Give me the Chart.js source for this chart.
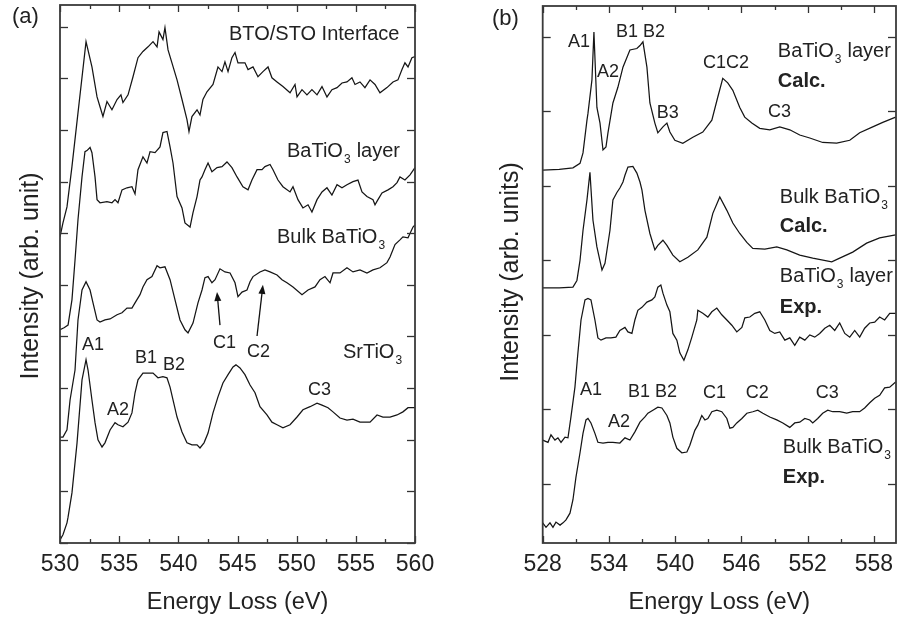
<!DOCTYPE html>
<html><head><meta charset="utf-8">
<script src="https://cdn.jsdelivr.net/npm/chart.js@4/dist/chart.umd.min.js"></script>
<style>
html,body{margin:0;padding:0;background:#fff;}
#wrap{position:relative;width:899px;height:619px;overflow:hidden;}
#ca{position:absolute;left:0;top:0;width:440px;height:619px;}
#cb{position:absolute;left:440px;top:0;width:459px;height:619px;}
</style></head><body>
<div id="wrap"><canvas id="ca" width="440" height="619"></canvas><canvas id="cb" width="459" height="619"></canvas></div>
<script>
// ---------- Panel (a): O K-edge spectra (energy eV, intensity arb.) ----------
const aInterface = [[530.00,5.93],[530.25,6.20],[530.59,6.51],[531.01,7.29],[531.52,8.33],[532.20,9.71],[532.70,9.22],[533.13,8.64],[533.38,8.45],[533.63,8.26],[533.97,8.55],[534.39,8.39],[534.82,8.59],[535.15,8.68],[535.32,8.53],[535.75,8.68],[536.17,9.03],[536.59,9.40],[537.01,9.52],[537.44,9.61],[537.86,9.71],[538.20,9.61],[538.37,9.90],[538.70,9.75],[538.87,9.98],[539.13,9.55],[539.46,9.30],[539.89,8.97],[540.31,8.59],[540.73,8.20],[540.90,7.97],[541.15,8.26],[541.58,8.39],[541.83,8.29],[542.08,8.59],[542.42,8.74],[542.93,8.88],[543.35,9.22],[543.69,9.13],[543.94,9.32],[544.20,9.13],[544.53,9.40],[544.79,9.50],[545.04,9.30],[545.63,9.30],[545.89,9.17],[546.31,9.22],[546.73,9.03],[547.15,9.13],[547.58,9.22],[547.91,9.01],[548.34,8.93],[548.84,8.84],[549.44,8.72],[549.86,8.88],[550.03,8.64],[550.45,8.78],[550.87,8.68],[551.29,8.78],[551.72,8.68],[552.14,8.84],[552.56,8.64],[552.98,8.78],[553.41,8.82],[553.83,8.91],[554.25,8.93],[554.67,9.01],[554.93,8.88],[555.35,8.93],[555.77,8.82],[556.20,8.97],[556.62,8.88],[557.04,8.72],[557.63,8.82],[558.14,8.93],[558.56,8.97],[558.90,9.17],[559.15,9.30],[559.41,9.22],[559.74,9.40],[560.00,9.42]];
const aLayer = [[530.00,4.13],[530.34,4.17],[530.68,4.22],[531.01,4.71],[531.27,5.48],[531.52,6.26],[531.86,7.09],[532.11,7.58],[532.28,7.60],[532.54,7.66],[532.70,7.56],[532.96,7.09],[533.13,6.65],[533.38,6.59],[533.97,6.61],[534.39,6.59],[534.65,6.65],[534.90,6.59],[535.24,6.84],[535.66,6.88],[536.08,6.90],[536.34,6.76],[536.59,7.23],[537.01,7.48],[537.35,7.36],[537.61,7.58],[538.03,7.56],[538.45,7.67],[538.70,7.95],[539.04,7.97],[539.30,7.67],[539.55,7.36],[539.89,6.71],[540.31,6.49],[540.56,6.20],[540.99,6.12],[541.24,6.40],[541.58,6.71],[541.83,7.03],[542.00,7.09],[542.25,7.23],[542.51,7.36],[542.84,7.19],[543.27,7.27],[543.69,7.29],[544.11,7.38],[544.53,7.27],[544.96,7.09],[545.46,6.90],[545.89,6.84],[546.22,7.03],[546.65,7.23],[547.07,7.23],[547.32,7.29],[547.75,7.33],[548.00,7.23],[548.42,7.03],[548.84,6.90],[549.44,6.80],[549.69,6.90],[550.11,6.65],[550.53,6.49],[550.96,6.55],[551.29,6.41],[551.72,6.65],[552.14,6.80],[552.56,6.88],[552.98,6.74],[553.41,6.94],[553.83,6.88],[554.25,6.94],[554.76,7.00],[555.18,7.03],[555.52,6.80],[555.94,6.71],[556.45,6.65],[556.62,6.55],[556.87,6.65],[557.21,6.78],[557.72,6.84],[558.14,6.90],[558.48,6.98],[558.73,7.09],[559.15,7.03],[559.58,7.13],[560.00,7.27]];
const aBulk = [[530.00,2.05],[530.25,2.05],[530.59,2.19],[530.85,2.77],[531.27,3.35],[531.52,4.32],[531.86,4.90],[532.20,5.06],[532.54,4.90],[532.79,4.65],[533.13,4.32],[533.38,4.28],[533.80,4.32],[534.23,4.34],[534.82,4.42],[535.24,4.46],[535.66,4.55],[536.08,4.55],[536.34,4.65],[536.76,4.81],[537.01,4.96],[537.35,5.10],[537.77,5.16],[538.20,5.37],[538.45,5.33],[538.87,5.35],[539.30,5.10],[539.72,4.71],[540.14,4.32],[540.56,4.13],[540.82,4.07],[541.24,4.26],[541.66,4.65],[542.00,4.90],[542.25,5.14],[542.51,5.16],[542.84,5.04],[543.10,5.10],[543.52,5.31],[543.94,5.25],[544.37,5.23],[544.79,5.04],[545.04,4.77],[545.38,4.86],[545.80,4.90],[546.06,5.06],[546.31,5.16],[546.90,5.25],[547.32,5.29],[547.75,5.25],[548.34,5.19],[548.76,5.10],[549.18,5.04],[549.69,4.96],[550.45,4.81],[550.96,4.90],[551.55,4.96],[551.97,5.10],[552.39,5.16],[552.82,5.04],[553.07,5.23],[553.66,5.23],[554.25,5.33],[554.76,5.25],[555.35,5.29],[555.94,5.23],[556.45,5.29],[557.04,5.33],[557.63,5.43],[557.89,5.54],[558.31,5.78],[558.73,5.87],[558.98,5.93],[559.41,5.91],[559.83,6.12],[560.00,6.16]];
const aSrTiO3 = [[530.00,0.06],[530.25,0.16],[530.59,0.39],[530.68,0.50],[531.01,0.97],[531.44,1.94],[531.86,3.16],[532.20,3.55],[532.37,3.35],[532.70,2.77],[532.96,2.33],[533.21,2.00],[533.55,1.86],[533.80,1.94],[534.23,2.19],[534.65,2.33],[534.90,2.29],[535.32,2.25],[535.75,2.34],[536.08,2.52],[536.34,2.91],[536.59,3.16],[537.01,3.29],[537.44,3.29],[537.86,3.29],[538.28,3.20],[538.70,3.22],[539.04,3.20],[539.30,3.02],[539.55,2.77],[539.89,2.44],[540.31,2.15],[540.73,1.94],[541.15,1.90],[541.58,1.90],[541.83,1.84],[542.17,1.94],[542.51,2.13],[542.93,2.52],[543.35,2.83],[543.77,3.10],[544.20,3.26],[544.62,3.41],[544.87,3.45],[545.21,3.39],[545.63,3.26],[546.06,3.06],[546.48,2.91],[546.90,2.64],[547.49,2.48],[547.91,2.34],[548.34,2.29],[548.84,2.23],[549.44,2.29],[550.03,2.44],[550.53,2.58],[551.13,2.64],[551.72,2.71],[552.14,2.67],[552.65,2.62],[553.07,2.54],[553.66,2.42],[554.25,2.38],[554.76,2.40],[555.35,2.34],[556.20,2.34],[556.79,2.48],[557.29,2.44],[557.89,2.44],[558.48,2.48],[558.98,2.54],[559.41,2.62],[560.00,2.62]];

// ---------- Panel (b) ----------
const bLayerCalc = [[528.00,4.21],[529.50,4.22],[530.74,4.24],[531.38,4.30],[531.65,4.44],[532.01,4.88],[532.10,4.97],[532.46,5.42],[532.64,6.06],[532.91,5.05],[533.19,4.84],[533.46,4.48],[533.73,4.52],[533.91,4.71],[534.36,5.11],[534.81,5.32],[535.27,5.59],[535.90,5.82],[536.53,5.84],[536.81,5.88],[537.08,5.93],[537.44,5.59],[537.71,5.11],[538.16,4.84],[538.43,4.71],[538.89,4.79],[539.25,4.84],[539.52,4.72],[539.97,4.61],[540.69,4.57],[541.60,4.65],[542.50,4.72],[543.32,4.88],[543.86,5.19],[544.31,5.44],[544.76,5.38],[545.22,5.28],[545.85,5.05],[546.30,4.92],[546.94,4.84],[547.66,4.77],[548.57,4.75],[549.47,4.79],[550.38,4.75],[551.28,4.68],[552.19,4.64],[553.36,4.58],[554.63,4.57],[555.81,4.61],[556.71,4.71],[557.89,4.79],[558.80,4.85],[559.97,4.92]];
const bBulkCalc = [[528.00,2.63],[529.50,2.63],[530.74,2.64],[531.10,2.73],[531.38,3.00],[531.65,3.40],[532.01,3.81],[532.28,4.18],[532.55,3.54],[532.91,3.18],[533.37,2.87],[533.64,2.96],[534.09,3.40],[534.36,3.81],[534.72,3.91],[534.99,3.97],[535.27,4.05],[535.45,4.14],[535.72,4.25],[536.17,4.26],[536.53,4.17],[536.81,4.05],[536.99,3.94],[537.26,3.67],[537.71,3.36],[538.16,3.14],[538.43,3.20],[538.89,3.27],[539.25,3.20],[539.79,3.07],[540.42,2.98],[541.15,3.04],[542.05,3.14],[542.87,3.31],[543.41,3.63],[544.04,3.85],[544.68,3.67],[545.22,3.50],[545.85,3.36],[546.49,3.24],[547.03,3.16],[548.12,3.15],[549.20,3.18],[550.11,3.14],[551.28,3.07],[552.46,3.03],[554.18,2.98],[554.90,3.03],[556.08,3.11],[557.34,3.23],[558.52,3.30],[559.97,3.34]];
const bLayerExp = [[528.00,0.59],[528.48,0.56],[528.75,0.66],[529.11,0.59],[529.38,0.62],[529.66,0.56],[530.02,0.63],[530.29,0.62],[530.56,0.90],[530.92,1.30],[531.19,1.76],[531.47,2.20],[531.83,2.47],[532.10,2.49],[532.37,2.47],[532.73,2.20],[533.00,1.96],[533.28,1.93],[533.73,1.96],[534.18,1.96],[534.63,1.97],[534.99,2.06],[535.45,2.10],[535.72,2.04],[536.08,2.02],[536.35,2.20],[536.62,2.33],[536.99,2.37],[537.44,2.44],[537.89,2.47],[538.16,2.51],[538.43,2.64],[538.70,2.67],[538.89,2.56],[539.25,2.40],[539.52,2.31],[539.79,2.02],[540.15,1.93],[540.42,1.76],[540.79,1.66],[541.15,1.80],[541.51,1.97],[541.96,2.20],[542.05,2.33],[542.50,2.29],[542.96,2.24],[543.32,2.31],[543.77,2.36],[544.22,2.27],[544.68,2.20],[545.13,2.13],[545.58,2.04],[546.04,2.10],[546.31,2.23],[546.76,2.24],[547.21,2.29],[547.66,2.31],[548.12,2.20],[548.57,2.06],[549.02,2.02],[549.47,2.04],[549.93,1.93],[550.38,1.96],[550.83,1.86],[551.28,1.97],[551.74,1.93],[552.19,2.00],[552.64,1.97],[553.09,2.02],[553.55,2.09],[554.00,2.13],[554.45,2.06],[554.90,2.16],[555.36,2.02],[555.81,1.97],[556.26,2.06],[556.71,1.97],[557.16,2.09],[557.62,2.16],[558.07,2.17],[558.52,2.24],[558.97,2.20],[559.43,2.29],[559.97,2.29]];
const bBulkExp = [[528.00,-0.52],[528.30,-0.58],[528.66,-0.52],[528.93,-0.58],[529.20,-0.51],[529.57,-0.55],[529.84,-0.52],[530.11,-0.48],[530.47,-0.39],[530.74,-0.21],[531.01,0.09],[531.38,0.42],[531.65,0.68],[531.92,0.86],[532.10,0.88],[532.37,0.82],[532.73,0.68],[533.00,0.56],[533.46,0.55],[533.91,0.56],[534.36,0.56],[534.99,0.55],[535.45,0.62],[535.90,0.59],[536.35,0.70],[536.81,0.83],[537.26,0.90],[537.53,0.95],[537.98,0.99],[538.43,1.03],[538.80,1.02],[539.25,0.92],[539.52,0.82],[539.79,0.63],[540.15,0.48],[540.60,0.42],[541.06,0.43],[541.33,0.52],[541.78,0.72],[542.05,0.79],[542.41,0.92],[542.69,0.86],[542.96,0.88],[543.32,0.97],[543.77,0.99],[544.22,0.97],[544.68,0.88],[544.95,0.75],[545.22,0.76],[545.58,0.82],[546.04,0.88],[546.49,0.95],[547.03,0.97],[547.48,0.99],[547.94,0.95],[548.57,0.90],[549.20,0.86],[549.75,0.82],[550.38,0.76],[550.83,0.82],[551.28,0.83],[551.74,0.88],[552.19,0.86],[552.46,0.82],[552.91,0.88],[553.36,0.95],[553.82,0.99],[554.27,0.97],[554.90,0.97],[555.54,0.95],[556.08,0.97],[556.71,0.97],[557.16,1.02],[557.62,1.09],[558.07,1.15],[558.52,1.19],[558.97,1.29],[559.43,1.30],[559.97,1.37]];

// tick values / labels
const aXTicks = [530,535,540,545,550,555,560];
const aXMinor = [532.5,537.5,542.5,547.5,552.5,557.5];
const aYTicks = [0,1,2,3,4,5,6,7,8,9,10];
const bXTicks = [528,534,540,546,552,558];
const bXMinor = [531,537,543,549,555];
const bYTicks = [0,1,2,3,4,5,6];

// text annotations [text, energy, intensity]
const aLabels = [["BTO/STO Interface",544.28,9.75],["BaTiO_3 layer",549.18,7.48],["Bulk BaTiO_3",548.34,5.81],["SrTiO_3",553.91,3.59]];
const aPeaks = [["A1",531.86,3.74],["B1",536.34,3.49],["B2",538.70,3.35],["C1",542.93,3.78],["C2",545.80,3.60],["A2",533.97,2.48],["C3",550.96,2.87]];
const aArrows = [[543.52,4.22,543.27,4.86],[546.65,4.01,547.15,5.00]];
const bLabels = [["BaTiO_3 layer",549.30,5.72,false],["Calc.",549.30,5.32,true],["Bulk BaTiO_3",549.48,3.77,false],["Calc.",549.48,3.38,true],["BaTiO_3 layer",549.48,2.71,false],["Exp.",549.48,2.29,true],["Bulk BaTiO_3",549.75,0.42,false],["Exp.",549.75,0.01,true]];
const bPeaks = [["A1",530.29,5.86],["B1 B2",534.63,5.99],["A2",532.91,5.46],["B3",538.34,4.91],["C1C2",542.51,5.58],["C3",548.40,4.92],["A1",531.38,1.19],["A2",533.91,0.76],["B1 B2",535.72,1.17],["C1",542.51,1.15],["C2",546.40,1.15],["C3",552.73,1.15]];

const FONT = '"Liberation Sans", Arial, Helvetica, sans-serif';
const TXT = '#222';

function drawRich(ctx, str, x, y, size, bold) {
  const parts = str.split('_');
  ctx.textAlign = 'left'; ctx.textBaseline = 'alphabetic';
  let cx = x;
  const w = bold ? 'bold ' : '';
  parts.forEach((p, i) => {
    let main = p;
    if (i > 0) {
      const sub = p[0]; main = p.slice(1);
      ctx.font = w + Math.round(size * 0.62) + 'px ' + FONT;
      ctx.fillText(sub, cx + 1, y + size * 0.3);
      cx += ctx.measureText(sub).width + 1.5;
    }
    ctx.font = w + size + 'px ' + FONT;
    ctx.fillText(main, cx, y);
    cx += ctx.measureText(main).width;
  });
}

function decor(cfg) {
  return {
    id: 'decor',
    afterDraw(chart) {
      const ctx = chart.ctx, a = chart.chartArea, xs = chart.scales.x, ys = chart.scales.y;
      ctx.save();
      ctx.strokeStyle = '#333'; ctx.lineWidth = 1.3;
      const ln = (x1, y1, x2, y2) => { ctx.beginPath(); ctx.moveTo(x1, y1); ctx.lineTo(x2, y2); ctx.stroke(); };
      cfg.xMajor.forEach(v => { const p = Math.round(xs.getPixelForValue(v)) + 0.5; ln(p, a.bottom, p, a.bottom - 7); ln(p, a.top, p, a.top + 7); });
      cfg.xMinor.forEach(v => { const p = Math.round(xs.getPixelForValue(v)) + 0.5; ln(p, a.bottom, p, a.bottom - 4); ln(p, a.top, p, a.top + 4); });
      cfg.yMajor.forEach(v => { const p = Math.round(ys.getPixelForValue(v)) + 0.5; ln(a.left, p, a.left + 8, p); ln(a.right, p, a.right - 8, p); });
      ctx.lineWidth = 1.8; ctx.strokeStyle = '#3a3a3a';
      ctx.strokeRect(a.left, a.top, a.right - a.left, a.bottom - a.top);
      // tick labels
      ctx.fillStyle = TXT; ctx.font = '23px ' + FONT; ctx.textAlign = 'center'; ctx.textBaseline = 'alphabetic';
      cfg.xMajor.forEach(v => ctx.fillText(String(v), xs.getPixelForValue(v), 571));
      // axis titles
      ctx.font = '23.5px ' + FONT;
      ctx.fillText('Energy Loss (eV)', (a.left + a.right) / 2, 609);
      ctx.save();
      ctx.translate(cfg.yTitleX, cfg.yTitleY); ctx.rotate(-Math.PI / 2);
      ctx.font = '25px ' + FONT; ctx.textAlign = 'center';
      ctx.fillText(cfg.yTitle, 0, 0);
      ctx.restore();
      // panel letter
      ctx.font = '22px ' + FONT; ctx.textAlign = 'left';
      ctx.fillText(cfg.letter, cfg.letterX, cfg.letterY);
      // labels
      cfg.labels.forEach(l => drawRich(ctx, l[0], xs.getPixelForValue(l[1]), ys.getPixelForValue(l[2]), 20, !!l[3]));
      cfg.peaks.forEach(l => drawRich(ctx, l[0], xs.getPixelForValue(l[1]), ys.getPixelForValue(l[2]), 18, false));
      // arrows
      ctx.strokeStyle = '#111'; ctx.fillStyle = '#111'; ctx.lineWidth = 1.3;
      (cfg.arrows || []).forEach(r => {
        const x1 = xs.getPixelForValue(r[0]), y1 = ys.getPixelForValue(r[1]);
        const x2 = xs.getPixelForValue(r[2]), y2 = ys.getPixelForValue(r[3]);
        const ang = Math.atan2(y2 - y1, x2 - x1);
        ln(x1, y1, x2 - 5 * Math.cos(ang), y2 - 5 * Math.sin(ang));
        ctx.beginPath();
        ctx.moveTo(x2, y2);
        ctx.lineTo(x2 - 9 * Math.cos(ang) + 3.5 * Math.sin(ang), y2 - 9 * Math.sin(ang) - 3.5 * Math.cos(ang));
        ctx.lineTo(x2 - 9 * Math.cos(ang) - 3.5 * Math.sin(ang), y2 - 9 * Math.sin(ang) + 3.5 * Math.cos(ang));
        ctx.closePath(); ctx.fill();
      });
      ctx.restore();
    }
  };
}

const toXY = arr => arr.map(p => ({ x: p[0], y: p[1] }));
const ds = arr => ({ data: toXY(arr), borderColor: '#151515', borderWidth: 1.25, pointRadius: 0, tension: 0, fill: false });

function makeChart(id, series, xmin, xmax, ymin, ymax, pad, cfg) {
  return new Chart(document.getElementById(id), {
    type: 'line',
    data: { datasets: series.map(ds) },
    options: {
      responsive: false, animation: false, devicePixelRatio: 1,
      layout: { padding: pad },
      plugins: { legend: { display: false }, tooltip: { enabled: false } },
      scales: {
        x: { type: 'linear', min: xmin, max: xmax, display: false },
        y: { type: 'linear', min: ymin, max: ymax, display: false }
      }
    },
    plugins: [decor(cfg)]
  });
}

makeChart('ca', [aInterface, aLayer, aBulk, aSrTiO3], 530, 560, 0, 10.42,
  { left: 60, right: 25, top: 5, bottom: 76 },
  { xMajor: aXTicks, xMinor: aXMinor, yMajor: aYTicks, yTitle: 'Intensity (arb. unit)', yTitleX: 38, yTitleY: 276,
    letter: '(a)', letterX: 12, letterY: 23, labels: aLabels, peaks: aPeaks, arrows: aArrows });

makeChart('cb', [bLayerCalc, bBulkCalc, bLayerExp, bBulkExp], 528, 560, -0.79, 6.41,
  { left: 102.7, right: 3, top: 6, bottom: 76 },
  { xMajor: bXTicks, xMinor: bXMinor, yMajor: bYTicks, yTitle: 'Intensity (arb. units)', yTitleX: 78, yTitleY: 272,
    letter: '(b)', letterX: 52, letterY: 25, labels: bLabels, peaks: bPeaks });
</script>
</body></html>
